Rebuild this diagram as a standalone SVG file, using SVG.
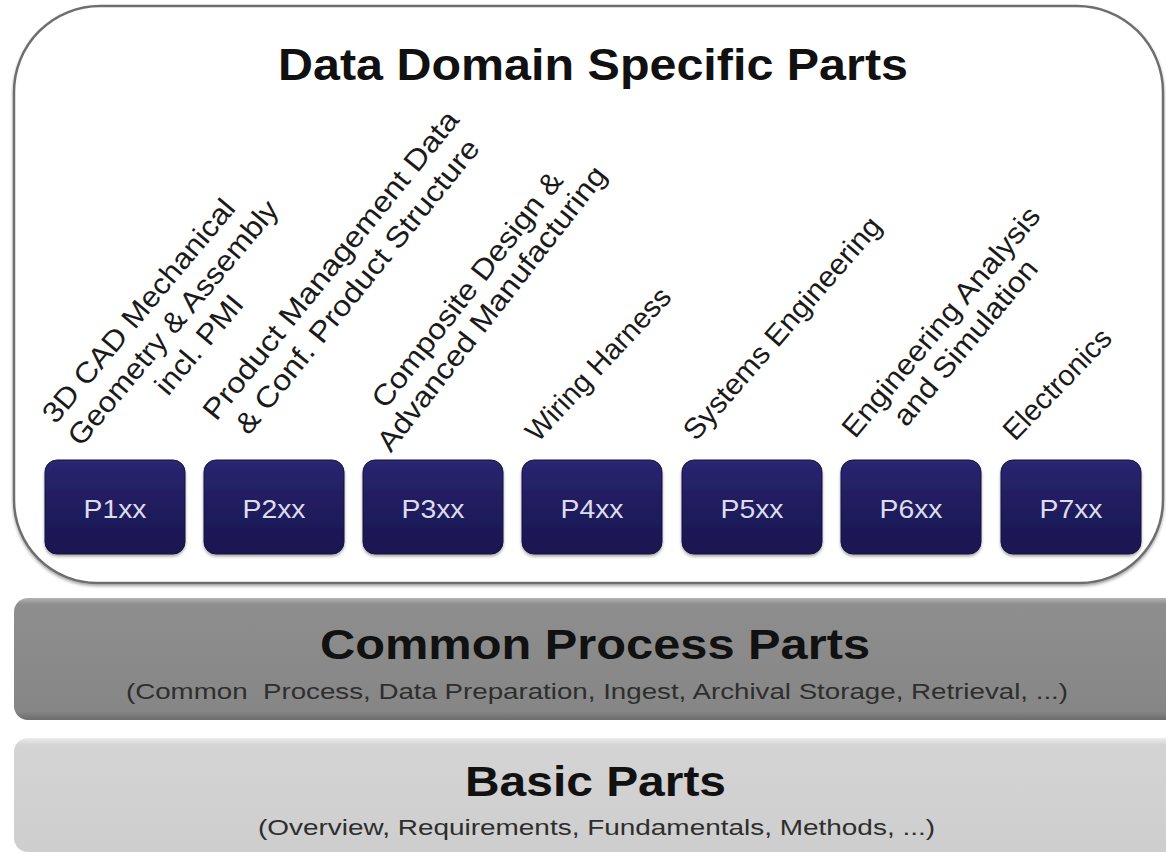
<svg xmlns="http://www.w3.org/2000/svg" width="1166" height="854" viewBox="0 0 1166 854">
<style>
.title{font-family:"Liberation Sans",Arial,sans-serif;font-weight:bold;fill:#111;text-anchor:middle}
.sub{font-family:"Liberation Sans",Arial,sans-serif;fill:#2e2e2e;text-anchor:middle;font-size:22px}
.lbl{font-family:"Liberation Sans",Arial,sans-serif;fill:#1a1a1a;text-anchor:middle;font-size:29px}
.ptxt{font-family:"Liberation Sans",Arial,sans-serif;fill:#dcdcee;text-anchor:middle;font-size:25px}
.pbox{fill:url(#navy);stroke:#15123f;stroke-width:1}
</style>
<defs>
<linearGradient id="navy" x1="0" y1="0" x2="0" y2="1">
<stop offset="0" stop-color="#2a2670"/>
<stop offset="0.5" stop-color="#201c5e"/>
<stop offset="1" stop-color="#1a1650"/>
</linearGradient>
<linearGradient id="common" x1="0" y1="0" x2="0" y2="1">
<stop offset="0" stop-color="#b4b4b4"/>
<stop offset="0.05" stop-color="#8e8e8e"/>
<stop offset="0.93" stop-color="#868686"/>
<stop offset="1" stop-color="#6c6c6c"/>
</linearGradient>
<linearGradient id="basic" x1="0" y1="0" x2="0" y2="1">
<stop offset="0" stop-color="#ececec"/>
<stop offset="0.06" stop-color="#d4d4d4"/>
<stop offset="1" stop-color="#cecece"/>
</linearGradient>
<filter id="sh" x="-5%" y="-5%" width="110%" height="115%">
<feDropShadow dx="0" dy="2" stdDeviation="1.5" flood-color="#000" flood-opacity="0.35"/>
</filter>
</defs>

<g id="domain">
<path d="M100 6 H1077 A86 86 0 0 1 1163 92 V500 A83 83 0 0 1 1080 583 H97 A83 83 0 0 1 14 500 V92 A86 86 0 0 1 100 6 Z" fill="#fff" stroke="#6e6e6e" stroke-width="2.5" filter="url(#sh)"/>
<text class="title" x="593" y="80" font-size="44" textLength="630" lengthAdjust="spacingAndGlyphs">Data Domain Specific Parts</text>
</g>

<g id="label1" transform="translate(172,322) rotate(-50) scale(1.08,1)">
<text class="lbl" x="-12" y="-23" font-size="32">3D CAD Mechanical</text>
<text class="lbl" x="0" y="11" font-size="32">Geometry &amp; Assembly</text>
<text class="lbl" x="0" y="45" font-size="32">incl. PMI</text>
</g>
<g id="label2" transform="translate(343,275) rotate(-51) scale(1.12,1)">
<text class="lbl" x="0" y="-6" font-size="32">Product Management Data</text>
<text class="lbl" x="0" y="28" font-size="32">&amp; Conf. Product Structure</text>
</g>
<g id="label3" transform="translate(478,298) rotate(-52) scale(1.1,1)">
<text class="lbl" x="0" y="-4" font-size="31.5">Composite Design &amp;</text>
<text class="lbl" x="0" y="27" font-size="31.5">Advanced Manufacturing</text>
</g>
<g id="label4" transform="translate(598,364) rotate(-47)">
<text class="lbl" x="0" y="10" font-size="29.5">Wiring Harness</text>
</g>
<g id="label5" transform="translate(782,328) rotate(-49) scale(1.04,1)">
<text class="lbl" x="0" y="10" font-size="30.5">Systems Engineering</text>
</g>
<g id="label6" transform="translate(953,332) rotate(-50) scale(1.08,1)">
<text class="lbl" x="0" y="-6" font-size="30.5">Engineering Analysis</text>
<text class="lbl" x="0" y="26" font-size="30.5">and Simulation</text>
</g>
<g id="label7" transform="translate(1057,384) rotate(-46)">
<text class="lbl" x="0" y="10" font-size="29.5">Electronics</text>
</g>

<g id="p1"><rect class="pbox" x="45" y="460" width="140" height="94" rx="12" filter="url(#sh)"/><text class="ptxt" x="115" y="518" textLength="63" lengthAdjust="spacingAndGlyphs">P1xx</text></g>
<g id="p2"><rect class="pbox" x="204" y="460" width="140" height="94" rx="12" filter="url(#sh)"/><text class="ptxt" x="274" y="518" textLength="63" lengthAdjust="spacingAndGlyphs">P2xx</text></g>
<g id="p3"><rect class="pbox" x="363" y="460" width="140" height="94" rx="12" filter="url(#sh)"/><text class="ptxt" x="433" y="518" textLength="63" lengthAdjust="spacingAndGlyphs">P3xx</text></g>
<g id="p4"><rect class="pbox" x="522" y="460" width="140" height="94" rx="12" filter="url(#sh)"/><text class="ptxt" x="592" y="518" textLength="63" lengthAdjust="spacingAndGlyphs">P4xx</text></g>
<g id="p5"><rect class="pbox" x="682" y="460" width="140" height="94" rx="12" filter="url(#sh)"/><text class="ptxt" x="752" y="518" textLength="63" lengthAdjust="spacingAndGlyphs">P5xx</text></g>
<g id="p6"><rect class="pbox" x="841" y="460" width="140" height="94" rx="12" filter="url(#sh)"/><text class="ptxt" x="911" y="518" textLength="63" lengthAdjust="spacingAndGlyphs">P6xx</text></g>
<g id="p7"><rect class="pbox" x="1001" y="460" width="140" height="94" rx="12" filter="url(#sh)"/><text class="ptxt" x="1071" y="518" textLength="63" lengthAdjust="spacingAndGlyphs">P7xx</text></g>

<g id="common-process">
<rect x="14" y="598" width="1170" height="122" rx="14" fill="url(#common)"/>
<text class="title" x="595" y="659" font-size="43" textLength="550" lengthAdjust="spacingAndGlyphs">Common Process Parts</text>
<text class="sub" x="597" y="699" xml:space="preserve" textLength="942" lengthAdjust="spacingAndGlyphs">(Common  Process, Data Preparation, Ingest, Archival Storage, Retrieval, ...)</text>
</g>

<g id="basic-parts">
<rect x="14" y="738" width="1170" height="114" rx="14" fill="url(#basic)"/>
<text class="title" x="595.5" y="796" font-size="43" textLength="261" lengthAdjust="spacingAndGlyphs">Basic Parts</text>
<text class="sub" x="596.5" y="835" textLength="677" lengthAdjust="spacingAndGlyphs">(Overview, Requirements, Fundamentals, Methods, ...)</text>
</g>

<g id="connectors"/>
</svg>
